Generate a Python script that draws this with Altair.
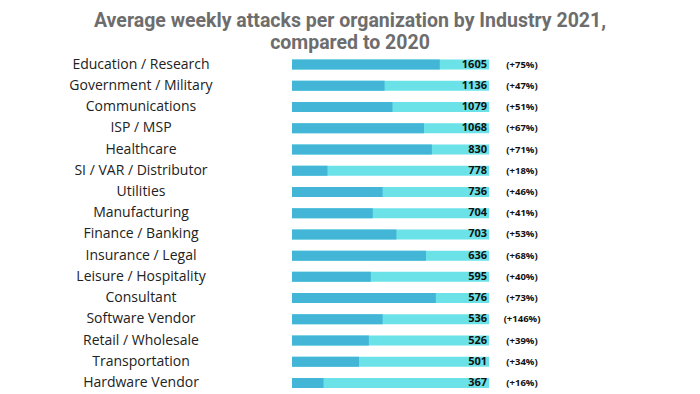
import altair as alt
import pandas as pd

industries = [
    "Education / Research", "Government / Military", "Communications", "ISP / MSP",
    "Healthcare", "SI / VAR / Distributor", "Utilities", "Manufacturing",
    "Finance / Banking", "Insurance / Legal", "Leisure / Hospitality", "Consultant",
    "Software Vendor", "Retail / Wholesale", "Transportation", "Hardware Vendor",
]
attacks = [1605, 1136, 1079, 1068, 830, 778, 736, 704, 703, 636, 595, 576, 536, 526, 501, 367]
change_pct = [75, 47, 51, 67, 71, 18, 46, 41, 53, 68, 40, 73, 146, 39, 34, 16]
# length of the dark segment as drawn (share of the full track, in %)
dark_share = [75, 47, 51, 67, 71, 18, 46, 41, 53, 68, 40, 73, 46, 39, 34, 16]
full_share = [100] * len(industries)

df = pd.DataFrame({
    "industry": industries,
    "attacks": attacks,
    "change": change_pct,
    "dark": dark_share,
    "full": full_share,
})
df["change_label"] = ["(+%d%%)" % c for c in change_pct]

y = alt.Y("industry:N", sort=industries, axis=None,
          scale=alt.Scale(range=[-4, 335.6], paddingInner=0, paddingOuter=0))
xs = alt.Scale(domain=[0, 100], range=[284, 481])

base = alt.Chart(df)
bg = base.mark_bar(size=10, color="#6be2e8").encode(
    x=alt.X("full:Q", scale=xs, axis=None), y=y)
fg = base.mark_bar(size=10, color="#43b5d6").encode(
    x=alt.X("dark:Q", scale=xs, axis=None), y=y)
cat = base.mark_text(font="Open Sans", fontSize=14, color="#222222",
                     align="center", baseline="middle").encode(
    x=alt.value(133), y=y, text="industry:N")
val = base.mark_text(font="Open Sans", fontSize=11, fontWeight="bold", color="#111111",
                     align="right", baseline="middle").encode(
    x=alt.value(479), y=y, text=alt.Text("attacks:Q", format="d"))
pct = base.mark_text(font="Open Sans", fontSize=9.5, fontWeight="bold", color="#111111",
                     align="center", baseline="middle").encode(
    x=alt.value(514), y=y, text="change_label:N")

chart = alt.layer(bg, fg, cat, val, pct).properties(
    width=684, height=336,
    title=alt.Title(
        ["Average weekly attacks per organization by Industry 2021,", "compared to 2020"],
        font="Roboto", fontSize=19.5, fontWeight="bold", color="#6d6d6d",
        lineHeight=22, anchor="middle", offset=4),
    autosize=alt.AutoSizeParams(type="none"),
    padding={"left": 0, "top": 50, "right": 0, "bottom": 0},
    background="white",
).configure_view(stroke=None)

chart.save("out.html", embed_options={"renderer": "svg", "actions": False})
